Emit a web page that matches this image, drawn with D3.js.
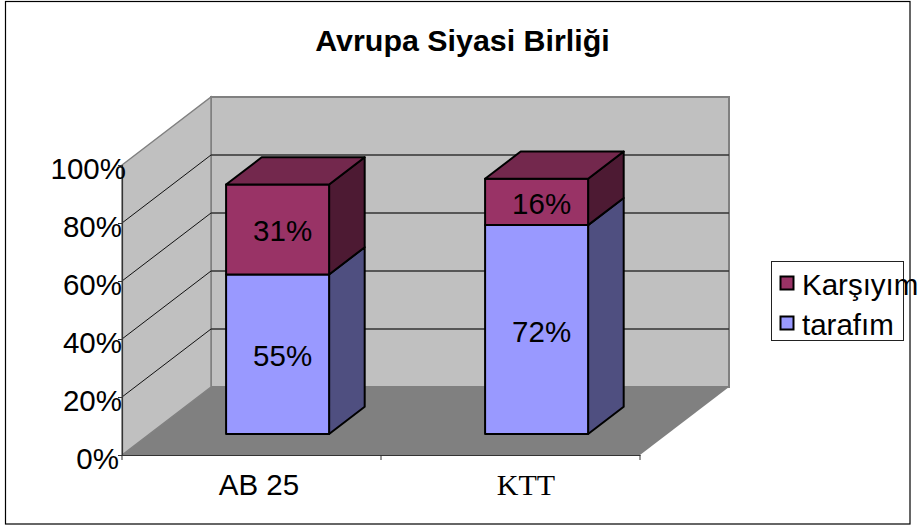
<!DOCTYPE html>
<html><head><meta charset="utf-8">
<script src="https://cdnjs.cloudflare.com/ajax/libs/d3/7.8.5/d3.min.js"></script>
<style>html,body{margin:0;padding:0;background:#fff}svg{display:block}text{font-family:"Liberation Sans",Arial,sans-serif;fill:#000}</style>
</head><body><div id="chart"></div>
<script>
const title = "Avrupa Siyasi Birliği";
const categories = ["AB 25", "KTT"];
const seriesNames = ["tarafım", "Karşıyım"];
const tarafim = [55, 72];
const karsiyim = [31, 16];
const yTicks = [0, 20, 40, 60, 80, 100];

const svg = d3.select("#chart").append("svg").attr("width", 919).attr("height", 525);
const y = d3.scaleLinear().domain([0, 100]).range([455, 165]);
const x = d3.scaleBand().domain(categories).range([122, 640]);
const backDx = 89, backDy = -68;
const line = d3.line();
const proj = (px, py, t) => [px + backDx * t, py + backDy * t];

svg.append("rect").attr("x", 5.5).attr("y", 1.5).attr("width", 904.5).attr("height", 522.5)
  .attr("fill", "#fff").attr("stroke", "#000").attr("stroke-width", 1.2);

const wallGrey = "#c0c0c0", edge = "#808080";
svg.append("path").attr("d", line([proj(122, y(0), 0), proj(640, y(0), 0), proj(640, y(0), 1), proj(122, y(0), 1)]) + "Z")
  .attr("fill", "#808080");
svg.append("path").attr("d", line([proj(122, y(0), 1), proj(640, y(0), 1), proj(640, y(100), 1), proj(122, y(100), 1)]) + "Z")
  .attr("fill", wallGrey).attr("stroke", edge).attr("stroke-width", 2);
svg.append("path").attr("d", line([proj(122, y(0), 0), proj(122, y(0), 1), proj(122, y(100), 1), proj(122, y(100), 0)]) + "Z")
  .attr("fill", wallGrey).attr("stroke", edge).attr("stroke-width", 1.5);
yTicks.slice(1).forEach(v => {
  if (v < 100) svg.append("path").attr("d", line([proj(122, y(v), 0), proj(122, y(v), 1)])).attr("stroke", "#111").attr("fill", "none");
  svg.append("path").attr("d", line([proj(122, y(v), 1), proj(640, y(v), 1)]))
    .attr("stroke", v === 100 ? edge : "#333").attr("stroke-width", v === 100 ? 2 : 1.3).attr("fill", "none");
});

const yAxis = svg.append("g").attr("transform", "translate(122,0)")
  .call(d3.axisLeft(y).tickValues(yTicks).tickFormat(d => d + "%").tickSize(4).tickPadding(0));
yAxis.select(".domain").attr("stroke", "#333").attr("stroke-width", 1.2);
yAxis.selectAll("line").attr("stroke", "#333");
yAxis.selectAll("text").attr("font-size", 29.5).attr("text-anchor", "end")
  .attr("x", d => d === 100 ? 4 : d === 0 ? -3 : 0).attr("y", 0).attr("dy", 13);

const xAxis = svg.append("g").attr("transform", `translate(0,${y(0)})`)
  .call(d3.axisBottom(x).tickValues([]).tickSize(0));
xAxis.select(".domain").attr("stroke", "#333").attr("stroke-width", 1.2);
[122, 381, 640].forEach(px => svg.append("line").attr("x1", px).attr("x2", px).attr("y1", 455).attr("y2", 460).attr("stroke", "#333"));
svg.selectAll("text.cat").data(categories).join("text").attr("class", "cat")
  .attr("x", (d, i) => x(d) + x.bandwidth() / 2 + (i === 0 ? 7.5 : 15.5))
  .attr("y", 495).attr("text-anchor", "middle")
  .attr("font-size", d => d === "KTT" ? 30 : 29.5)
  .style("font-family", d => d === "KTT" ? '"Liberation Serif",serif' : null)
  .text(d => d);

const barW = 103, t0 = 0.31, t1 = 0.71;
const colors = [
  { front: "#9999ff", top: "#7a7acc", side: "#4f4f80" },
  { front: "#993366", top: "#73284d", side: "#4d1a33" }
];
categories.forEach((c, i) => {
  const xl = x(c) + (x.bandwidth() - barW) / 2 - 1.5, xr = xl + barW;
  let cum = 0;
  [tarafim[i], karsiyim[i]].forEach((v, s) => {
    const yb = y(cum), yt = y(cum + v);
    const style = (sel, fill) => sel.attr("fill", fill).attr("stroke", "#000").attr("stroke-width", 2).attr("stroke-linejoin", "round");
    svg.append("path").attr("d", line([proj(xr, yb, t0), proj(xr, yb, t1), proj(xr, yt, t1), proj(xr, yt, t0)]) + "Z").call(style, colors[s].side);
    svg.append("path").attr("d", line([proj(xl, yb, t0), proj(xr, yb, t0), proj(xr, yt, t0), proj(xl, yt, t0)]) + "Z").call(style, colors[s].front);
    if (s === 1) svg.append("path").attr("d", line([proj(xl, yt, t0), proj(xr, yt, t0), proj(xr, yt, t1), proj(xl, yt, t1)]) + "Z").call(style, colors[s].top);
    const [cx, cy] = proj((xl + xr) / 2, (yb + yt) / 2, t0);
    svg.append("text").attr("x", cx + 5).attr("y", cy + 12).attr("text-anchor", "middle").attr("font-size", 29.5).text(v + "%");
    cum += v;
  });
});

svg.append("text").attr("x", 462.5).attr("y", 51).attr("text-anchor", "middle")
  .attr("font-size", 30.4).attr("font-weight", "bold").text(title);

svg.append("rect").attr("x", 771.5).attr("y", 261.5).attr("width", 132).attr("height", 79)
  .attr("fill", "#fff").attr("stroke", "#222").attr("stroke-width", 1);
[[1, 283], [0, 323]].forEach(([s, cy]) => {
  svg.append("rect").attr("x", 780.5).attr("y", cy - 6.5).attr("width", 13).attr("height", 13)
    .attr("fill", colors[s].front).attr("stroke", "#000").attr("stroke-width", 2);
  svg.append("text").attr("x", 802).attr("y", cy + 11.5).attr("font-size", 29.5).text(seriesNames[s]);
});
</script></body></html>
